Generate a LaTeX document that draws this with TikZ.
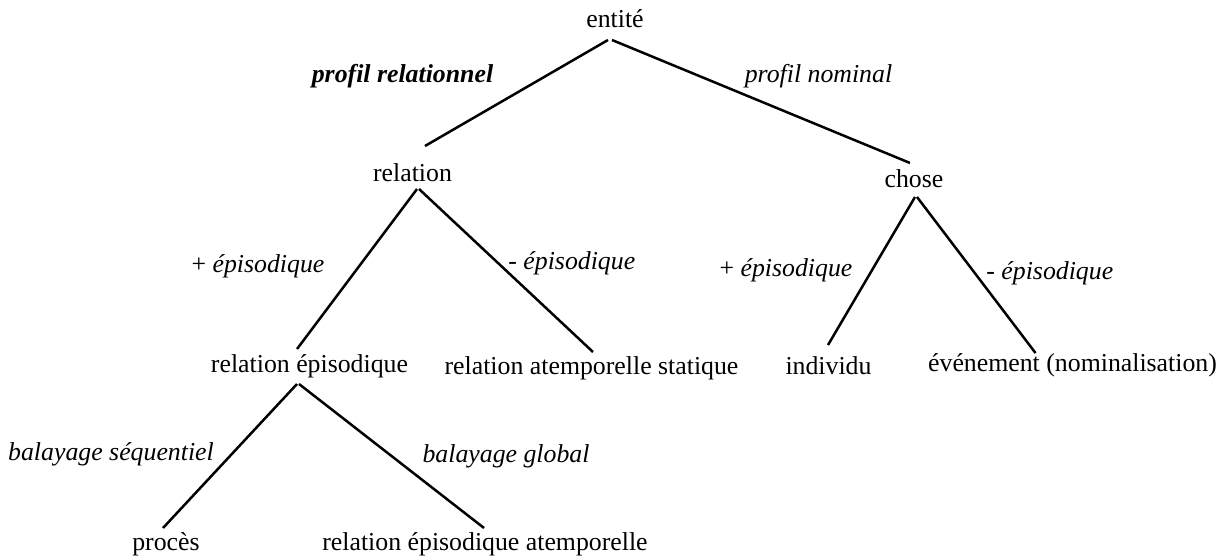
\documentclass[tikz,border=0pt]{standalone}
\usepackage{fontspec}
\setmainfont{Liberation Serif}
\usepackage{tikz}
\usetikzlibrary{calc}
\tikzset{
  term/.style={anchor=base, inner sep=0pt, font=\fontsize{12.9}{15}\selectfont},
  feat/.style={term, font=\fontsize{12.9}{15}\selectfont\itshape}
}

\begin{document}
\begin{tikzpicture}[x=0.5pt, y=-0.5pt,
  branch/.style={draw, line width=1.25pt}]
\useasboundingbox (0,0) rectangle (1225,560);
% categories
\node[term] (entite) at (615,28) {entité};
\node[term] (relation) at (412.5,182) {relation};
\node[term] (chose) at (914,188) {chose};
\node[term] (relepi) at (309.5,373) {relation épisodique};
\node[term] (relstat) at (591.5,375) {relation atemporelle statique};
\node[term] (individu) at (828.5,375) {individu};
\node[term] (evenement) at (1072.5,372) {événement (nominalisation)};
\node[term] (proces) at (166,550) {procès};
\node[term] (relatemp) at (485,550) {relation épisodique atemporelle};
% traits
\node[feat, font=\fontsize{12.9}{15}\selectfont\bfseries\itshape] (profrel) at (402.5,83) {profil relationnel};
\node[feat] (profnom) at (818.5,83) {profil nominal};
\node[term] (plusrel) at (258,273) {+ \textit{épisodique}};
\node[term, anchor=base west] (moinsrel) at (508,270) {- \textit{épisodique}};
\node[term] (pluschose) at (786,277) {+ \textit{épisodique}};
\node[term, anchor=base west] (moinschose) at (986,280) {- \textit{épisodique}};
\node[feat] (balseq) at (111,461) {balayage séquentiel};
\node[feat] (balglob) at (506,463) {balayage global};
% branches
\draw[branch] ($(entite.base)+(-7,12)$) -- ($(relation.base)+(12.5,-36)$);
\draw[branch] ($(entite.base)+(-3,12)$) -- ($(chose.base)+(-4,-25)$);
\draw[branch] ($(relation.base)+(4.5,7)$) -- ($(relepi.base)+(-12.5,-24)$);
\draw[branch] ($(relation.base)+(6.5,7)$) -- ($(relstat.base)+(1.5,-23)$);
\draw[branch] ($(chose.base)+(1,9)$) -- ($(individu.base)+(-0.5,-30)$);
\draw[branch] ($(chose.base)+(3,9)$) -- ($(evenement.base)+(-37,-19)$);
\draw[branch] ($(relepi.base)+(-12.5,11)$) -- ($(proces.base)+(-3,-22)$);
\draw[branch] ($(relepi.base)+(-10.5,11)$) -- ($(relatemp.base)+(-1,-22)$);
\end{tikzpicture}
\end{document}
